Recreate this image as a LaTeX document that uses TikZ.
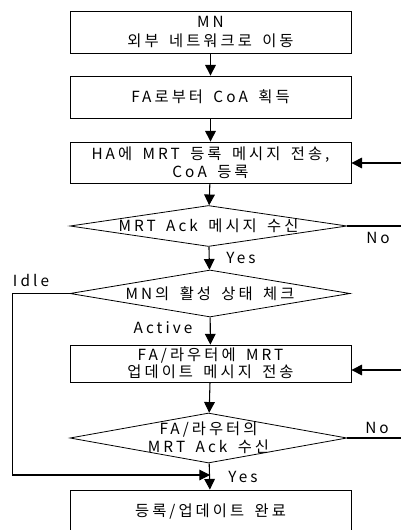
\documentclass[tikz,border=0pt]{standalone}
\usepackage{fontspec}
\newfontfamily\kr[LetterSpace=20,WordSpace=1.6]{Noto Sans CJK KR}
\usetikzlibrary{shapes.geometric,arrows.meta}

\begin{document}
\begin{tikzpicture}[x=0.75pt, y=-0.75pt,
  every node/.style={font=\kr\fontsize{11.5}{13.5}\selectfont, align=center},
  stepbox/.style={draw, line width=0.6pt, minimum width=210.75pt, inner sep=0pt},
  decision/.style={draw, diamond, line width=0.6pt, inner sep=0pt},
  flow/.style={-{Triangle[width=8pt,length=8pt]}, line width=0.8pt},
  loopline/.style={line width=0.8pt}]

\useasboundingbox (0,0) rectangle (401,530);

\node[stepbox, minimum height=31.5pt] (move) at (210.5,32) {MN\\[1pt]외부 네트워크로 이동};
\node[stepbox, minimum height=31.5pt] (coa) at (210.5,97) {FA로부터 CoA 획득};
\node[stepbox, minimum height=30.75pt] (reg) at (210.5,162.5) {HA에 MRT 등록 메시지 전송,\\CoA 등록};

\node[decision, minimum width=207.75pt, minimum height=30.75pt] (ack) at (208.5,226) {};
\node (acktxt) at (ack) {MRT Ack 메시지 수신};

\node[decision, minimum width=210pt, minimum height=35.25pt] (state) at (210,293.5) {};
\node (statetxt) at (state) {MN의 활성 상태 체크};

\node[stepbox, minimum height=27.75pt] (upd) at (210.5,363.5) {FA/라우터에 MRT\\[-1pt]업데이트 메시지 전송};

\node[decision, minimum width=207.75pt, minimum height=37.5pt] (fack) at (208.5,438) {};
\node (facktxt) at (fack) {FA/라우터의\\MRT Ack 수신};

\node[stepbox, minimum height=33pt] (done) at (210.5,512) {등록/업데이트 완료};

% main flow
\draw[flow] (move) -- (coa);
\draw[flow] (coa) -- (reg);
\draw[flow] (reg) -- (ack);
\draw[flow] (ack) -- (state);
\draw[flow] (state) -- (upd);
\draw[flow] (upd) -- (fack);
\draw[flow] (fack) -- (done);

% retry loops (cut at the right edge)
\coordinate (ackout) at (401,226);
\coordinate (regin) at (401,163);
\coordinate (fackout) at (401,438);
\coordinate (updin) at (401,370);
\draw[loopline] (ack.east) -- (ackout);
\draw[flow] (regin) -- (reg.east |- regin);
\draw[loopline] (fack.east) -- (fackout);
\draw[flow] (updin) -- (upd.east |- updin);

% idle branch
\coordinate (join) at (210,475);
\draw[flow] (state.west) -- ++(-57,0) |- (join);

% labels
\node (noA) at (378,238) {No};
\node (yesA) at (241,258) {Yes};
\node (idle) at (31,280) {Idle};
\node (active) at (163,328) {Active};
\node (noB) at (377,428) {No};
\node (yesB) at (243,477) {Yes};
\end{tikzpicture}
\end{document}
